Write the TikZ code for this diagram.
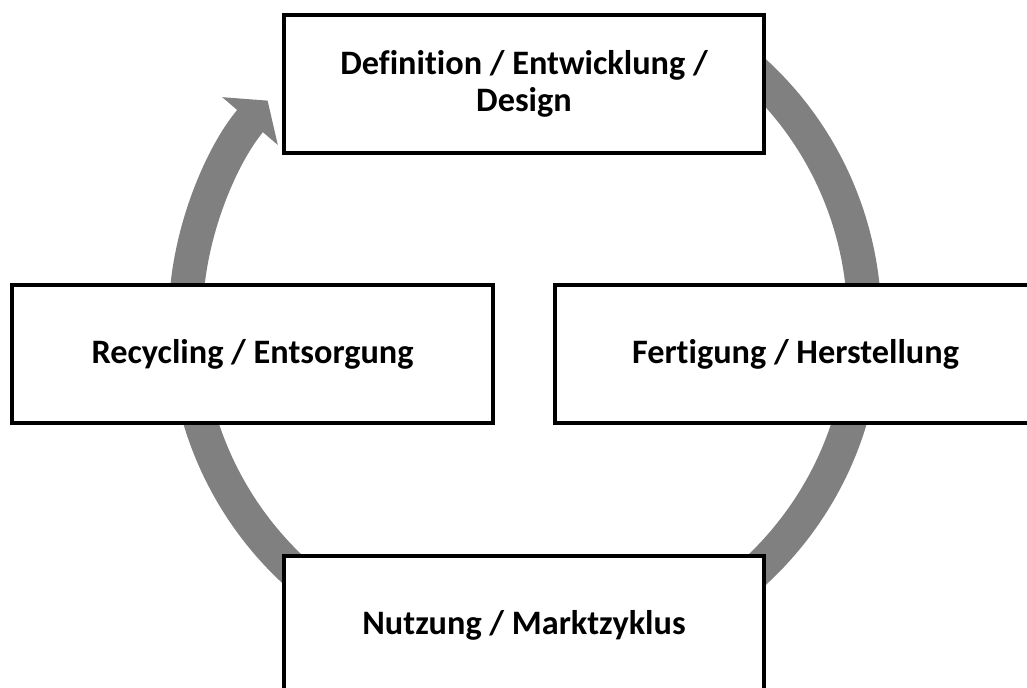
\documentclass[tikz,border=0pt]{standalone}
\usepackage{fontspec}
\setmainfont{Carlito}[Ligatures=NoCommon]
\usetikzlibrary{arrows.meta}
\definecolor{ringgray}{RGB}{128,128,128}
\begin{document}
\begin{tikzpicture}[x=0.02cm, y=0.02cm,
  phase/.style={draw, line width=0.08cm, fill=white, align=center,
    minimum width=9.62cm, minimum height=2.76cm,
    font=\fontsize{19.5pt}{21pt}\selectfont\bfseries},
  ring/.style={draw=ringgray, line width=0.68cm,
    -{Triangle[length=0.54cm, width=1.44cm]}}]
\useasboundingbox (0,0) rectangle (1027,-688);
\coordinate (mid) at (525,-322);
\draw[ring] (mid) ++(50:339.5) arc[start angle=50, end angle=-220.7, radius=339.5];
\node[phase] (design) at (524,-84) {Definition / Entwicklung /\\Design};
\node[phase] (fertigung) at (795.5,-354) {Fertigung / Herstellung};
\node[phase] (nutzung) at (524,-625) {Nutzung / Marktzyklus};
\node[phase] (recycling) at (252.5,-354) {Recycling / Entsorgung};
\end{tikzpicture}
\end{document}
